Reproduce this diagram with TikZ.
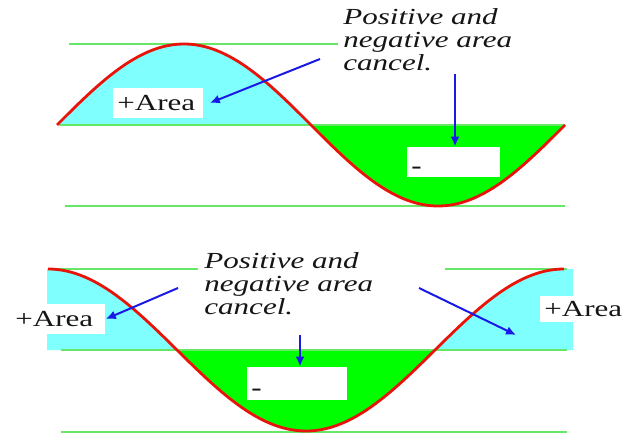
\documentclass[tikz,border=0pt]{standalone}
\usepackage{fontspec}
\setmainfont{Liberation Serif}[FakeStretch=1.35]
\usetikzlibrary{arrows.meta}
\definecolor{cyanfill}{HTML}{80FFFF}
\definecolor{greenfill}{HTML}{00FF00}
\definecolor{guide}{HTML}{66E866}
\definecolor{curvered}{HTML}{E8140A}
\definecolor{arrowblue}{HTML}{1A1AE6}
\definecolor{ink}{HTML}{151515}
\newcommand{\lowdash}{\smash{\raisebox{-6pt}{\bfseries -}}}
\begin{document}
\begin{tikzpicture}[x=0.5pt,y={(0pt,-0.5pt)},
  guideline/.style={draw=guide,line width=0.75pt},
  wave/.style={draw=curvered,line width=1.4pt,line join=round},
  pointer/.style={draw=arrowblue,line width=1pt,-{Latex[length=5pt,width=4.5pt]}},
  whitebox/.style={fill=white,inner xsep=2pt,inner ysep=0pt,minimum height=15pt,
    text width=#1,align=left,anchor=west,text=ink,font=\fontsize{11.5}{12}\selectfont},
  note/.style={anchor=base west,inner sep=0pt,text=ink,font=\fontsize{11.5}{12}\selectfont\itshape}]
\useasboundingbox (0,0) rectangle (632,433);

% ---------- top panel ----------
\fill[cyanfill] plot[domain=57:311,samples=80] (\x,{125-81*sin(0.708661*(\x-57))}) -- cycle;
\fill[greenfill] plot[domain=311:565,samples=80] (\x,{125-81*sin(0.708661*(\x-57))}) -- cycle;
\draw[guideline] (69,44) -- (338,44);
\draw[guideline] (59,125) -- (565,125);
\draw[guideline] (65,206) -- (565,206);
\node[whitebox=41pt] (boxA) at (113,103) {+Area};
\node[whitebox=42.5pt] (boxM) at (407,162) {\lowdash};
\draw[wave] plot[domain=57:565,samples=160] (\x,{125-81*sin(0.708661*(\x-57))});
\node[note] (t1a) at (343,25) {Positive and};
\node[note] (t1b) at (343,48) {negative area};
\node[note] (t1c) at (343,71) {cancel.};
\coordinate (s1) at (320,59);
\coordinate (s2) at (455,74);
\draw[pointer] (s1) -- ([xshift=3pt]boxA.east);
\draw[pointer] (s2) -- (s2 |- boxM.north);

% ---------- bottom panel ----------
\fill[cyanfill] (47,269) -- plot[domain=48:177,samples=60] (\x,{350-81*cos(0.697674*(\x-48))}) -- (47,350) -- cycle;
\fill[cyanfill] plot[domain=435:564,samples=60] (\x,{350-81*cos(0.697674*(\x-48))}) -- (573,269) -- (573,350) -- cycle;
\fill[greenfill] plot[domain=177:435,samples=80] (\x,{350-81*cos(0.697674*(\x-48))}) -- cycle;
\draw[guideline] (49,269) -- (198,269);
\draw[guideline] (445,269) -- (567,269);
\draw[guideline] (61,350) -- (567,350);
\draw[guideline] (61,432) -- (567,432);
\node[whitebox=43pt] (boxL) at (11,319) {+Area};
\node[whitebox=42pt,minimum height=13pt] (boxR) at (540,309) {+Area};
\node[whitebox=46pt,minimum height=16.5pt] (boxB) at (247,383.5) {\lowdash};
\draw[wave] plot[domain=48:564,samples=160] (\x,{350-81*cos(0.697674*(\x-48))});
\node[note] (t2a) at (204,268) {Positive and};
\node[note] (t2b) at (204,291) {negative area};
\node[note] (t2c) at (204,314) {cancel.};
\coordinate (s3) at (178,288);
\coordinate (s4) at (300,335);
\coordinate (s5) at (419,288);
\coordinate (e5) at (516,335);
\draw[pointer] (s3) -- (boxL.east);
\draw[pointer] (s4) -- (s4 |- boxB.north);
\draw[pointer] (s5) -- (e5);
\end{tikzpicture}
\end{document}
